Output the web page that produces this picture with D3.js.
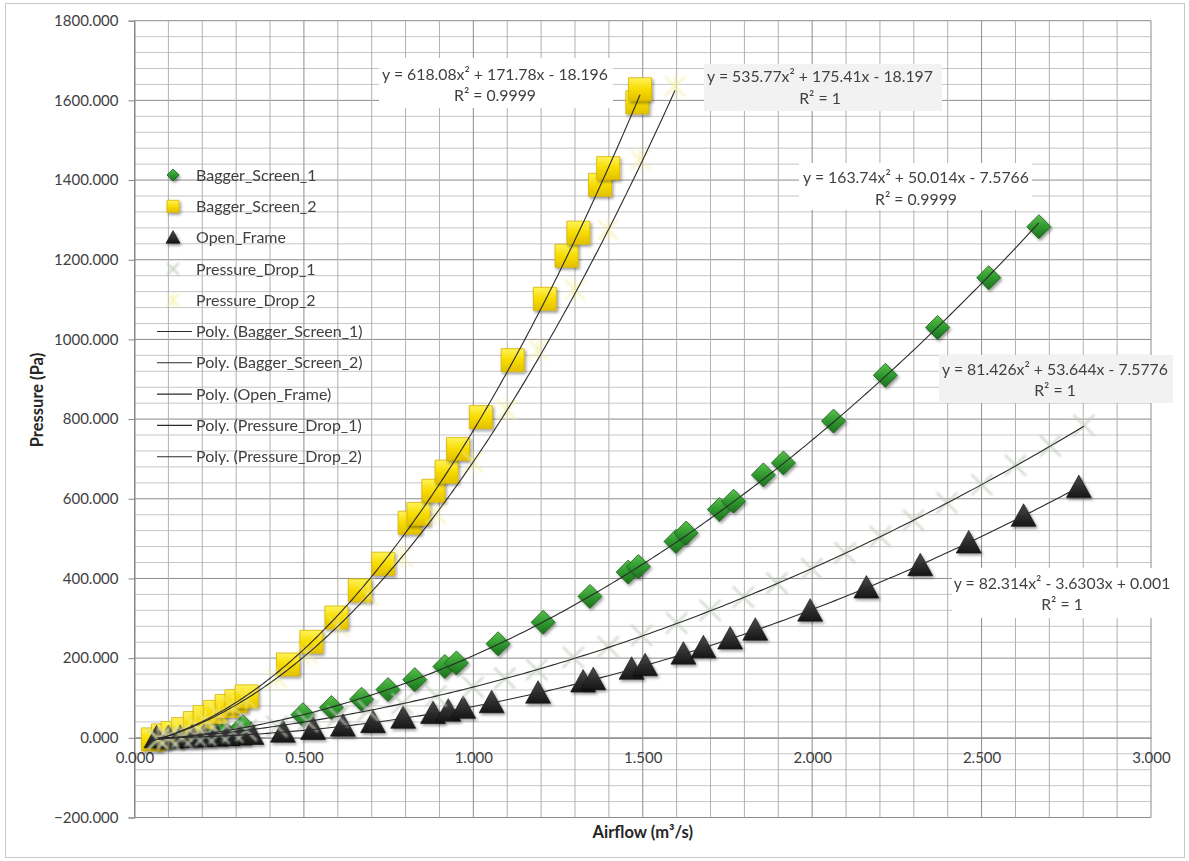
<!DOCTYPE html>
<html>
<head>
<meta charset="utf-8">
<script src="https://cdn.jsdelivr.net/npm/d3@7"></script>
<style>
  html, body { margin: 0; padding: 0; background: #fff; }
  svg { display: block; font-family: Lato, "Open Sans", sans-serif; }
</style>
</head>
<body>
<svg id="chart" width="1189" height="861"></svg>
<script>
// ---- Measured airflow (m³/s) and pressure (Pa) for each configuration ----
const baggerScreen1X = [0.07, 0.10, 0.14, 0.18, 0.22, 0.26, 0.32, 0.497, 0.581, 0.670, 0.748, 0.827, 0.916, 0.950,
  1.073, 1.206, 1.344, 1.457, 1.487, 1.598, 1.628, 1.726, 1.768, 1.856, 1.915, 2.063, 2.216, 2.370, 2.521, 2.669];
const baggerScreen1Y = [-3, -1, 2, 6, 11, 18, 28, 58, 76, 97, 121, 146, 179, 188,
  236, 290, 355, 416, 430, 493, 514, 573, 594, 660, 690, 795, 910, 1030, 1155, 1283];

const baggerScreen2X = [0.054, 0.084, 0.113, 0.143, 0.178, 0.207, 0.237, 0.272, 0.301, 0.331, 0.453, 0.522, 0.596,
  0.665, 0.734, 0.812, 0.838, 0.882, 0.921, 0.955, 1.022, 1.116, 1.211, 1.275, 1.310, 1.374, 1.398, 1.484, 1.492];
const baggerScreen2Y = [-4, 6, 12, 22, 37, 52, 65, 80, 92, 104, 184, 241, 302,
  370, 437, 540, 562, 620, 668, 725, 805, 948, 1102, 1210, 1268, 1388, 1430, 1595, 1628];

const openFrameX = [0.065, 0.10, 0.135, 0.17, 0.205, 0.24, 0.275, 0.31, 0.345, 0.438, 0.527, 0.615, 0.704, 0.793,
  0.881, 0.926, 0.970, 1.054, 1.191, 1.324, 1.354, 1.467, 1.507, 1.620, 1.679, 1.758, 1.832, 1.994, 2.160, 2.319,
  2.462, 2.624, 2.787];
const openFrameY = [0, 0.5, 1, 2, 3, 4, 5.5, 7, 8.5, 14, 21, 29, 38, 49,
  61, 67, 74, 88, 112, 140, 146, 172, 181, 210, 226, 248, 270, 318, 376, 432,
  489, 556, 628];

const pressureDrop1X = [0.07, 0.10, 0.14, 0.18, 0.21, 0.25, 0.29, 0.33, 0.42, 0.51, 0.60, 0.69, 0.79, 0.89, 0.999,
  1.093, 1.187, 1.295, 1.398, 1.497, 1.600, 1.699, 1.797, 1.896, 1.999, 2.097, 2.201, 2.299, 2.398, 2.501,
  2.600, 2.703, 2.802];
const pressureDrop1Y = [-3, -1, 1, 5, 7, 11, 15, 19, 29, 41, 54, 68, 86, 105, 127,
  149, 171, 202, 228, 257, 288, 320, 353, 388, 424, 464, 505, 546, 590, 635,
  684, 733, 784];

const pressureDrop2X = [0.07, 0.10, 0.14, 0.18, 0.21, 0.25, 0.29, 0.33, 0.42, 0.51, 0.60, 0.69, 0.79, 0.89, 0.999,
  1.098, 1.191, 1.300, 1.398, 1.492, 1.595];
const pressureDrop2Y = [-3, 5, 17, 31, 42, 59, 78, 98, 150, 211, 280, 358, 455, 562, 692,
  823, 974, 1125, 1275, 1451, 1635];

// ---- Polynomial trendlines (a·x² + b·x + c) and their labels ----
const seriesNames = ["Bagger_Screen_1", "Bagger_Screen_2", "Open_Frame", "Pressure_Drop_1", "Pressure_Drop_2"];
const trendA = [163.74, 618.08, 82.314, 81.426, 535.77];
const trendB = [50.014, 171.78, -3.6303, 53.644, 175.41];
const trendC = [-7.5766, -18.196, 0.001, -7.5776, -18.197];
const trendEquations = [
  "y = 163.74x² + 50.014x - 7.5766",
  "y = 618.08x² + 171.78x - 18.196",
  "y = 82.314x² - 3.6303x + 0.001",
  "y = 81.426x² + 53.644x - 7.5776",
  "y = 535.77x² + 175.41x - 18.197"
];
const trendR2 = ["R² = 0.9999", "R² = 0.9999", "R² = 1", "R² = 1", "R² = 1"];

// ---- Axis ticks ----
const xTicks = [0, 0.5, 1.0, 1.5, 2.0, 2.5, 3.0];
const yTicks = [-200, 0, 200, 400, 600, 800, 1000, 1200, 1400, 1600, 1800];
const xTitle = "Airflow (m³/s)";
const yTitle = "Pressure (Pa)";

// ---------------------------------------------------------------------------
const svg = d3.select("#chart");
const x = d3.scaleLinear().domain([0, 3]).range([134.5, 1151]);
const y = d3.scaleLinear().domain([-200, 1800]).range([817.5, 20.7]);

const defs = svg.append("defs");
const shadow = defs.append("filter").attr("id", "shadow")
  .attr("x", "-50%").attr("y", "-50%").attr("width", "200%").attr("height", "200%");
shadow.append("feDropShadow").attr("dx", 1.5).attr("dy", 2).attr("stdDeviation", 1.4)
  .attr("flood-color", "#000").attr("flood-opacity", 0.4);
const glow = defs.append("filter").attr("id", "glow")
  .attr("x", "-50%").attr("y", "-50%").attr("width", "200%").attr("height", "200%");
glow.append("feGaussianBlur").attr("stdDeviation", 0.8);

function grad(id, stops) {
  const g = defs.append("linearGradient").attr("id", id)
    .attr("x1", "0").attr("y1", "0").attr("x2", "0").attr("y2", "1");
  stops.forEach(([o, c]) => g.append("stop").attr("offset", o).attr("stop-color", c));
}
grad("gGreen", [["0", "#5cc04c"], ["0.5", "#2f9a2f"], ["1", "#1d6e1d"]]);
grad("gYellow", [["0", "#fff35a"], ["0.5", "#f7dc00"], ["1", "#e3c000"]]);
grad("gBlack", [["0", "#4a4a4a"], ["0.6", "#2a2a2a"], ["1", "#161616"]]);

// chart frame
svg.append("rect").attr("x", 5.5).attr("y", 3.5).attr("width", 1179).attr("height", 854)
  .attr("fill", "#fff").attr("stroke", "#c8c8c8");

// grid
const grid = svg.append("g");
grid.selectAll(".hmin").data(d3.range(-200, 1800.01, 40)).join("line")
  .attr("x1", x(0)).attr("x2", x(3)).attr("y1", d => y(d)).attr("y2", d => y(d))
  .attr("stroke", d => (Math.round(d) % 200 === 0) ? "#8c8c8c" : "#c6c6c6").attr("stroke-width", 1);
grid.selectAll(".vmin").data(d3.range(0, 3.0001, 0.1)).join("line")
  .attr("x1", d => x(d)).attr("x2", d => x(d)).attr("y1", y(-200)).attr("y2", y(1800))
  .attr("stroke", d => (Math.round(d * 10) % 5 === 0) ? "#8c8c8c" : "#b0b0b0").attr("stroke-width", 1);

// axes
const tickFmt = d3.format(".3f");
const yAxis = svg.append("g").attr("transform", `translate(${x(0)},0)`)
  .call(d3.axisLeft(y).tickValues(yTicks).tickFormat(tickFmt).tickSize(6).tickPadding(10));
const xAxis = svg.append("g").attr("transform", `translate(0,${y(0)})`)
  .call(d3.axisBottom(x).tickValues(xTicks).tickFormat(tickFmt).tickSize(0).tickPadding(15));
[yAxis, xAxis].forEach(a => {
  a.select(".domain").attr("stroke", "#868686");
  a.selectAll(".tick line").attr("stroke", "#868686");
  a.selectAll("text").attr("fill", "#404040").style("font-size", "15px").style("font-family", "Lato, sans-serif");
});

// axis titles
svg.append("text").attr("x", (x(0) + x(3)) / 2).attr("y", 838).attr("text-anchor", "middle")
  .attr("font-weight", "bold").attr("font-size", 16.5).attr("fill", "#262626").text(xTitle);
svg.append("text").attr("transform", `translate(43,400) rotate(-90)`)
  .attr("text-anchor", "middle").attr("font-weight", "bold").attr("font-size", 16.5)
  .attr("fill", "#262626").text(yTitle);

// marker shapes
function diamondPath(s) { const h = s / 2; return `M0,${-h}L${h},0L0,${h}L${-h},0Z`; }
function squarePath(s) { const h = s / 2; return `M${-h},${-h}H${h}V${h}H${-h}Z`; }
function trianglePath(s) { const h = s / 2; return `M0,${-h}L${h},${h * 0.8}L${-h},${h * 0.8}Z`; }
function xPath(s) { const h = s / 2; return `M${-h},${-h}L${h},${h}M${h},${-h}L${-h},${h}`; }
function starPath(s) { const h = s / 2; return `M${-h},${-h}L${h},${h}M${h},${-h}L${-h},${h}M0,${-h * 1.15}V${h * 1.15}`; }

const markerStyles = [
  { path: diamondPath, size: 24, fill: "url(#gGreen)", stroke: "#1a5e1a", sw: 0.8, filter: "url(#shadow)", op: 1 },
  { path: squarePath, size: 23, fill: "url(#gYellow)", stroke: "#d6b400", sw: 0.8, filter: "url(#shadow)", op: 1 },
  { path: trianglePath, size: 25, fill: "url(#gBlack)", stroke: "#111", sw: 0.6, filter: "url(#shadow)", op: 1 },
  { path: xPath, size: 21, fill: "none", stroke: "#c4cfbe", sw: 1.8, filter: "url(#glow)", op: 1 },
  { path: starPath, size: 20, fill: "none", stroke: "#f3ee9a", sw: 1.6, filter: "url(#glow)", op: 0.8 }
];

const seriesX = [baggerScreen1X, baggerScreen2X, openFrameX, pressureDrop1X, pressureDrop2X];
const seriesY = [baggerScreen1Y, baggerScreen2Y, openFrameY, pressureDrop1Y, pressureDrop2Y];

// markers (later series sit on top)
seriesNames.forEach((name, i) => {
  const st = markerStyles[i];
  const pts = seriesX[i].map((v, k) => ({ x: v, y: seriesY[i][k] }));
  svg.append("g").attr("class", "series").attr("opacity", st.op)
    .selectAll("path").data(pts).join("path")
    .attr("transform", d => `translate(${x(d.x)},${y(d.y)})`)
    .attr("d", st.path(st.size))
    .attr("fill", st.fill).attr("stroke", st.stroke).attr("stroke-width", st.sw)
    .attr("filter", st.filter);
});

// trendlines over the data range of each series
const line = d3.line().x(d => x(d[0])).y(d => y(d[1]));
seriesNames.forEach((name, i) => {
  const [lo, hi] = d3.extent(seriesX[i]);
  const pts = d3.range(0, 201).map(k => {
    const v = lo + (hi - lo) * k / 200;
    return [v, trendA[i] * v * v + trendB[i] * v + trendC[i]];
  });
  svg.append("path").attr("d", line(pts)).attr("fill", "none")
    .attr("stroke", "#2b2b2b").attr("stroke-width", 1.1);
});

// trendline equation labels
const labelBoxes = [
  { cx: 916, y1: 177, y2: 199, rx: 799, ry: 163, w: 233, h: 47, fill: "#ffffff" },
  { cx: 495, y1: 74, y2: 95, rx: 379, ry: 58, w: 234, h: 50, fill: "#ffffff" },
  { cx: 1062, y1: 583, y2: 604, rx: 952, ry: 568, w: 222, h: 50, fill: "#ffffff" },
  { cx: 1055, y1: 369, y2: 390, rx: 939, ry: 355, w: 234, h: 48, fill: "#f2f2f2" },
  { cx: 820, y1: 76, y2: 98, rx: 704, ry: 64, w: 238, h: 47, fill: "#f2f2f2" }
];
labelBoxes.forEach((b, i) => {
  const g = svg.append("g");
  g.append("rect").attr("x", b.rx).attr("y", b.ry).attr("width", b.w).attr("height", b.h).attr("fill", b.fill);
  g.append("text").attr("x", b.cx).attr("y", b.y1).attr("dy", "0.35em").attr("text-anchor", "middle")
    .attr("font-size", 15.8).attr("fill", "#404040").text(trendEquations[i]);
  g.append("text").attr("x", b.cx).attr("y", b.y2).attr("dy", "0.35em").attr("text-anchor", "middle")
    .attr("font-size", 15.8).attr("fill", "#404040").text(trendR2[i]);
});

// legend
const legendItems = seriesNames.map((n, i) => ({ label: n, kind: "marker", i }))
  .concat(seriesNames.map((n, i) => ({ label: `Poly. (${n})`, kind: "line", i })));
const legend = svg.append("g");
legendItems.forEach((d, k) => {
  const cy = 175 + k * 31.3;
  if (d.kind === "marker") {
    const st = markerStyles[d.i];
    legend.append("path").attr("transform", `translate(173,${cy})`).attr("opacity", st.op)
      .attr("d", st.path(d.i === 2 ? 14 : 12))
      .attr("fill", st.fill).attr("stroke", st.stroke).attr("stroke-width", st.sw)
      .attr("filter", st.filter);
  } else {
    legend.append("line").attr("x1", 157).attr("x2", 192).attr("y1", cy).attr("y2", cy)
      .attr("stroke", "#2b2b2b").attr("stroke-width", 1.1);
  }
  legend.append("text").attr("x", 196).attr("y", cy).attr("dy", "0.35em")
    .attr("font-size", 16).attr("fill", "#404040").text(d.label);
});
</script>
</body>
</html>
